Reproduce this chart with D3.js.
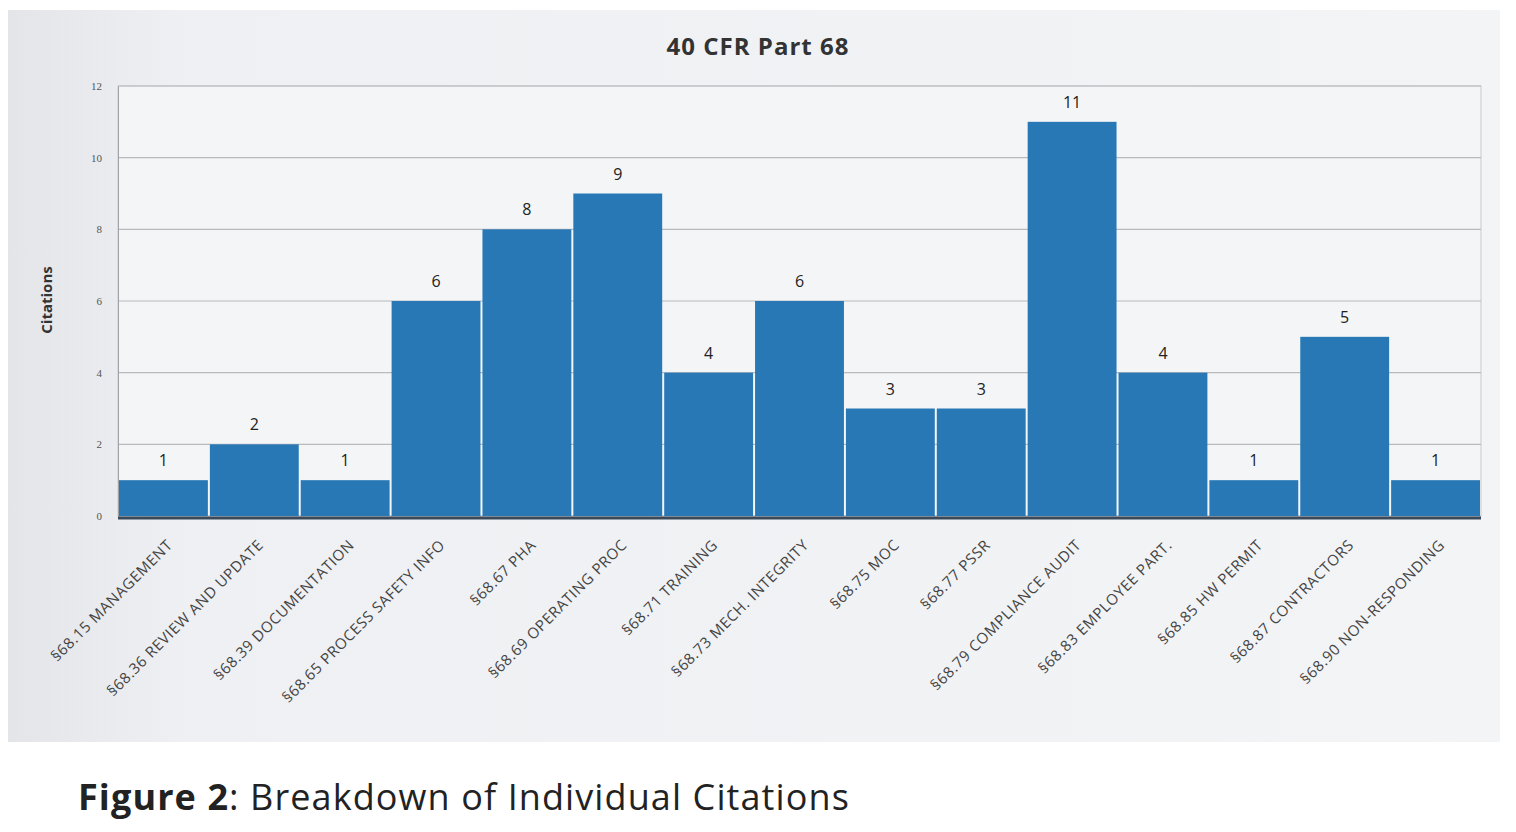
<!DOCTYPE html>
<html><head><meta charset="utf-8">
<script src="https://cdn.jsdelivr.net/npm/d3@7"></script>
<style>body{margin:0;background:#fff;} svg{display:block;}</style>
</head><body>
<svg id="c" width="1516" height="832"></svg>
<script>
const categories = ["§68.15 MANAGEMENT","§68.36 REVIEW AND UPDATE","§68.39 DOCUMENTATION","§68.65 PROCESS SAFETY INFO","§68.67 PHA","§68.69 OPERATING PROC","§68.71 TRAINING","§68.73 MECH. INTEGRITY","§68.75 MOC","§68.77 PSSR","§68.79 COMPLIANCE AUDIT","§68.83 EMPLOYEE PART.","§68.85 HW PERMIT","§68.87 CONTRACTORS","§68.90 NON-RESPONDING"];
const citations = [1,2,1,6,8,9,4,6,3,3,11,4,1,5,1];
const yTicks = [0,2,4,6,8,10,12];

const svg = d3.select("#c");
const defs = svg.append("defs");
const g1 = defs.append("linearGradient").attr("id","bg").attr("x1","0").attr("x2","1").attr("y1","0").attr("y2","0");
g1.append("stop").attr("offset","0").attr("stop-color","#e3e5e9");
g1.append("stop").attr("offset","0.12").attr("stop-color","#eef0f3");
g1.append("stop").attr("offset","1").attr("stop-color","#f3f4f6");

svg.append("rect").attr("x",8).attr("y",10).attr("width",1492).attr("height",732).attr("fill","url(#bg)");

const m = {l:118, r:1481, t:86, b:516};
const x = d3.scaleBand().domain(categories).range([m.l, m.r]).paddingInner(0).paddingOuter(0);
const y = d3.scaleLinear().domain([0,12]).range([m.b, m.t]);

svg.append("rect").attr("x",m.l).attr("y",m.t).attr("width",m.r-m.l).attr("height",m.b-m.t).attr("fill","#f4f5f7").attr("stroke","#c8cacd");

// grid
svg.append("g").selectAll("line").data(yTicks).join("line")
  .attr("x1",m.l).attr("x2",m.r).attr("y1",d=>y(d)).attr("y2",d=>y(d))
  .attr("stroke","#b8babd").attr("stroke-width",1.2);

// y axis
const ya = svg.append("g").attr("transform",`translate(${m.l},0)`)
  .call(d3.axisLeft(y).tickValues(yTicks).tickSize(0).tickPadding(16));
ya.select(".domain").attr("stroke","#a0a2a5");
ya.selectAll("text").attr("font-family","Liberation Serif, serif").attr("font-size",11).attr("fill","#555");

// bars
svg.append("g").selectAll("rect").data(categories).join("rect")
  .attr("x",d=>x(d)+1).attr("width",x.bandwidth()-2)
  .attr("y",(d,i)=>y(citations[i])).attr("height",(d,i)=>y(0)-y(citations[i]))
  .attr("fill","#2878b6");

// value labels
svg.append("g").selectAll("text").data(categories).join("text")
  .attr("x",d=>x(d)+x.bandwidth()/2).attr("y",(d,i)=>y(citations[i])-14)
  .attr("text-anchor","middle").attr("font-family","Open Sans, sans-serif").attr("font-size",16)
  .attr("fill","#222").text((d,i)=>citations[i]);

// x axis baseline
svg.append("line").attr("x1",m.l).attr("x2",m.r).attr("y1",m.b+2).attr("y2",m.b+2).attr("stroke","#3a4a5a").attr("stroke-width",3);

const xa = svg.append("g").attr("transform",`translate(0,${m.b})`)
  .call(d3.axisBottom(x).tickSize(0).tickPadding(0));
xa.select(".domain").remove();
xa.selectAll("text")
  .attr("font-family","Open Sans, sans-serif").attr("font-size",15).attr("fill","#444")
  .attr("letter-spacing","0.6px")
  .attr("text-anchor","end").attr("dy","0")
  .attr("transform","translate(10,30) rotate(-45)")
  .attr("y",0).attr("x",0);

// title
svg.append("text").attr("x",758).attr("y",55).attr("text-anchor","middle")
  .attr("font-family","Open Sans, sans-serif").attr("font-weight","bold").attr("font-size",24).attr("letter-spacing","1px").attr("fill","#333").text("40 CFR Part 68");

// y label
svg.append("text").attr("transform","translate(52,300) rotate(-90)").attr("text-anchor","middle")
  .attr("font-family","Open Sans, sans-serif").attr("font-weight","bold").attr("font-size",15).attr("fill","#333").text("Citations");

// caption
const cap = svg.append("text").attr("x",78).attr("y",810).attr("font-family","Open Sans, sans-serif").attr("font-size",36).attr("letter-spacing","1.1px").attr("fill","#222");
cap.append("tspan").attr("font-weight","bold").text("Figure 2");
cap.append("tspan").text(":  Breakdown of Individual Citations");
</script>
</body></html>
